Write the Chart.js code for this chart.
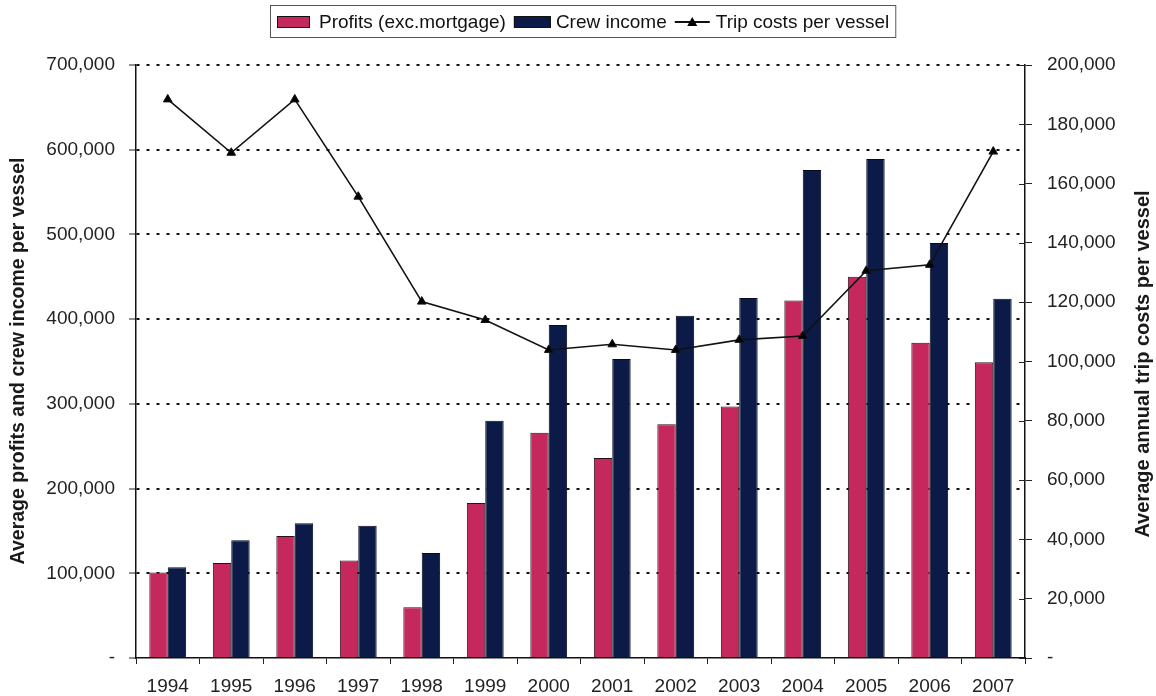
<!DOCTYPE html>
<html>
<head>
<meta charset="utf-8">
<title>Profits, crew income and trip costs per vessel</title>
<script src="https://cdn.jsdelivr.net/npm/chart.js@4.4.1/dist/chart.umd.min.js"></script>
<style>
  html, body { margin: 0; padding: 0; background: #fff; }
  #wrap { width: 1156px; height: 696px; }
</style>
</head>
<body>
<div id="wrap"><canvas id="chart"></canvas></div>
<script>
// yearly averages per vessel
const years = ['1994', '1995', '1996', '1997', '1998', '1999', '2000', '2001', '2002', '2003', '2004', '2005', '2006', '2007'];
const profits = [101000, 112000, 144000, 115000, 60000, 183000, 266000, 236000, 276000, 297000, 422000, 450000, 372000, 349000];
const crewIncome = [107000, 139000, 159000, 156000, 124000, 280000, 393000, 353000, 404000, 425000, 576000, 589000, 490000, 424000];
const tripCosts = [188400, 170400, 188400, 155600, 120200, 114000, 103900, 105800, 103900, 107300, 108600, 130600, 132600, 170800];

const FONT = "'Liberation Sans', Arial, sans-serif";
const PINK = '#c4285c';
const NAVY = '#0b1a47';

const fmt = v => (v === 0 ? '-' : v.toLocaleString('en-US'));

// legend with a frame, and the two rotated axis titles (right one reads upwards)
const decorations = {
  id: 'decorations',
  afterDraw(chart) {
    const ctx = chart.ctx;
    const area = chart.chartArea;
    ctx.save();

    // small tick marks on the inner side of the right axis
    const y1 = chart.scales.y1;
    ctx.strokeStyle = '#222';
    ctx.lineWidth = 1;
    y1.ticks.forEach(t => {
      const y = Math.round(y1.getPixelForValue(t.value)) + 0.5;
      ctx.beginPath();
      ctx.moveTo(area.right - 6, y);
      ctx.lineTo(area.right, y);
      ctx.stroke();
    });

    // legend
    ctx.font = '19px ' + FONT;
    ctx.textBaseline = 'middle';
    ctx.fillStyle = '#111';
    const items = [
      { label: chart.data.datasets[1].label, kind: 'box', color: PINK },
      { label: chart.data.datasets[2].label, kind: 'box', color: NAVY },
      { label: chart.data.datasets[0].label, kind: 'line' }
    ];
    const symW = [33, 37, 35];
    const gapAfterSym = [9, 5, 6];
    const gapAfterText = 8;
    let total = 0;
    items.forEach((it, i) => {
      it.tw = ctx.measureText(it.label).width;
      total += symW[i] + gapAfterSym[i] + it.tw + (i < items.length - 1 ? gapAfterText : 0);
    });
    const cx = 583;
    const cy = 22;
    let x = Math.round(cx - total / 2);
    ctx.strokeStyle = '#555';
    ctx.lineWidth = 1;
    ctx.strokeRect(x - 6.5, 5.5, total + 13, 32);
    items.forEach((it, i) => {
      if (it.kind === 'box') {
        ctx.fillStyle = it.color;
        ctx.fillRect(x, cy - 6, symW[i], 12);
        ctx.strokeStyle = '#111';
        ctx.strokeRect(x + 0.5, cy - 5.5, symW[i] - 1, 11);
      } else {
        ctx.strokeStyle = '#111';
        ctx.lineWidth = 2;
        ctx.beginPath();
        ctx.moveTo(x, cy);
        ctx.lineTo(x + symW[i], cy);
        ctx.stroke();
        ctx.lineWidth = 1;
        const mx = x + symW[i] / 2;
        ctx.fillStyle = '#000';
        ctx.beginPath();
        ctx.moveTo(mx, cy - 5);
        ctx.lineTo(mx + 5, cy + 4);
        ctx.lineTo(mx - 5, cy + 4);
        ctx.closePath();
        ctx.fill();
      }
      x += symW[i] + gapAfterSym[i];
      ctx.fillStyle = '#111';
      ctx.textAlign = 'left';
      ctx.fillText(it.label, x, cy + 1);
      x += it.tw + gapAfterText;
    });

    // axis titles
    ctx.fillStyle = '#1a1a1a';
    ctx.textAlign = 'center';
    ctx.font = 'bold 19.5px ' + FONT;
    ctx.translate(19, 361);
    ctx.rotate(-Math.PI / 2);
    ctx.fillText('Average profits and crew income per vessel', 0, 0);
    ctx.setTransform(1, 0, 0, 1, 0, 0);
    ctx.font = 'bold 20px ' + FONT;
    ctx.translate(1143, 364);
    ctx.rotate(-Math.PI / 2);
    ctx.fillText('Average annual trip costs per vessel', 0, 0);
    ctx.restore();
  }
};

new Chart(document.getElementById('chart'), {
  data: {
    labels: years,
    datasets: [
      {
        type: 'line',
        label: 'Trip costs per vessel',
        data: tripCosts,
        yAxisID: 'y1',
        borderColor: '#111',
        borderWidth: 1.6,
        backgroundColor: '#000',
        pointStyle: 'triangle',
        pointRadius: 5,
        pointBorderWidth: 1,
        tension: 0,
        order: 0
      },
      {
        type: 'bar',
        label: 'Profits (exc.mortgage)',
        data: profits,
        yAxisID: 'y',
        backgroundColor: PINK,
        borderColor: '#2a1018',
        borderWidth: 1,
        categoryPercentage: 0.58,
        barPercentage: 1,
        order: 1
      },
      {
        type: 'bar',
        label: 'Crew income',
        data: crewIncome,
        yAxisID: 'y',
        backgroundColor: NAVY,
        borderColor: '#050a1c',
        borderWidth: 1,
        categoryPercentage: 0.58,
        barPercentage: 1,
        order: 1
      }
    ]
  },
  options: {
    responsive: true,
    maintainAspectRatio: false,
    animation: false,
    layout: { padding: { top: 65, left: 0, right: 0, bottom: 0 } },
    plugins: {
      legend: { display: false },
      tooltip: { enabled: false }
    },
    scales: {
      x: {
        offset: true,
        grid: {
          offset: true,
          drawOnChartArea: false,
          tickLength: 6,
          tickColor: '#222',
          tickWidth: 1
        },
        border: { color: '#111', width: 1.5 },
        ticks: {
          font: { family: FONT, size: 19 },
          color: '#222',
          padding: 11,
          maxRotation: 0
        },
        afterFit(scale) { scale.height = 38; }
      },
      y: {
        position: 'left',
        min: 0,
        max: 700000,
        ticks: {
          stepSize: 100000,
          callback: fmt,
          font: { family: FONT, size: 19 },
          color: '#222',
          padding: 14
        },
        grid: {
          color: ctx => (ctx.tick && ctx.tick.value === 0 ? 'rgba(0,0,0,0)' : '#111'),
          lineWidth: 2,
          tickLength: 7,
          tickColor: '#222',
          tickWidth: 1,
          tickBorderDash: []
        },
        border: { color: '#111', width: 1.5, dash: [3, 7] },
        afterFit(scale) { scale.width = 136; }
      },
      y1: {
        position: 'right',
        min: 0,
        max: 200000,
        ticks: {
          stepSize: 20000,
          callback: fmt,
          font: { family: FONT, size: 19 },
          color: '#222',
          padding: 15
        },
        grid: {
          drawOnChartArea: false,
          tickLength: 7,
          tickColor: '#222',
          tickWidth: 1
        },
        border: { color: '#111', width: 1.5 },
        afterFit(scale) { scale.width = 131; }
      }
    }
  },
  plugins: [decorations]
});
</script>
</body>
</html>
